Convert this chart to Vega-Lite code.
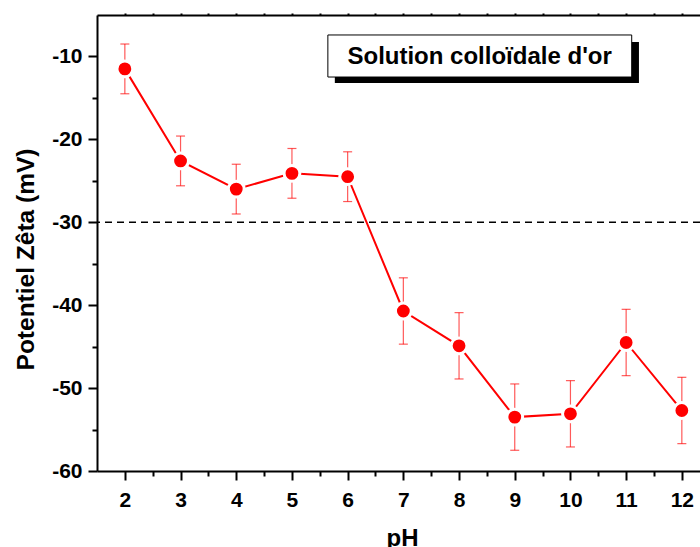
{
  "$schema": "https://vega.github.io/schema/vega-lite/v6.json",
  "width": 603,
  "height": 456,
  "autosize": {"type": "none"},
  "padding": {"left": 97, "top": 15, "right": 0, "bottom": 76},
  "background": "white",
  "config": {"view": {"stroke": null}, "font": "Liberation Sans"},
  "data": {"values": [
    {"pH": 2, "zeta": -11.5, "lo": -14.5, "hi": -8.5},
    {"pH": 3, "zeta": -22.6, "lo": -25.6, "hi": -19.6},
    {"pH": 4, "zeta": -26.0, "lo": -29.0, "hi": -23.0},
    {"pH": 5, "zeta": -24.1, "lo": -27.1, "hi": -21.1},
    {"pH": 6, "zeta": -24.5, "lo": -27.5, "hi": -21.5},
    {"pH": 7, "zeta": -40.7, "lo": -44.7, "hi": -36.7},
    {"pH": 8, "zeta": -44.9, "lo": -48.9, "hi": -40.9},
    {"pH": 9, "zeta": -53.5, "lo": -57.5, "hi": -49.5},
    {"pH": 10, "zeta": -53.1, "lo": -57.1, "hi": -49.1},
    {"pH": 11, "zeta": -44.5, "lo": -48.5, "hi": -40.5},
    {"pH": 12, "zeta": -52.7, "lo": -56.7, "hi": -48.7}
  ]},
  "layer": [
    {
      "mark": {"type": "line", "color": "#FF0000", "strokeWidth": 2},
      "encoding": {
        "x": {"field": "pH", "type": "quantitative",
          "scale": {"domain": [1.5, 12.326], "nice": false, "zero": false},
          "axis": {"orient": "bottom", "title": "pH", "grid": false,
            "values": [2,2.5,3,3.5,4,4.5,5,5.5,6,6.5,7,7.5,8,8.5,9,9.5,10,10.5,11,11.5,12],
            "labelExpr": "datum.value % 1 === 0 ? '' + datum.value : ''",
            "tickSize": {"condition": {"test": "datum.value % 1 === 0", "value": 9}, "value": 5},
            "tickWidth": 2, "tickColor": "black", "domainWidth": 2, "domainColor": "black",
            "labelFontSize": 21, "labelFontWeight": "bold", "labelColor": "black",
            "labelBaseline": "top", "labelPadding": 9, "labelFlush": false,
            "titleFontSize": 24, "titleFontWeight": "bold", "titleColor": "black",
            "titleX": 305, "titleY": 74, "titleBaseline": "alphabetic", "titleAlign": "center"}},
        "y": {"field": "zeta", "type": "quantitative",
          "scale": {"domain": [-60, -5], "nice": false, "zero": false},
          "axis": {"orient": "left", "title": "Potentiel Zêta (mV)", "grid": false,
            "values": [-60,-55,-50,-45,-40,-35,-30,-25,-20,-15,-10],
            "labelExpr": "datum.value % 10 === 0 ? '' + datum.value : ''",
            "tickSize": {"condition": {"test": "datum.value % 10 === 0", "value": 9}, "value": 5},
            "tickWidth": 2, "tickColor": "black", "domainWidth": 2, "domainColor": "black",
            "labelFontSize": 21, "labelFontWeight": "bold", "labelColor": "black",
            "labelBaseline": "middle", "labelPadding": 6, "labelFlush": false,
            "titleFontSize": 24.5, "titleFontWeight": "bold", "titleColor": "black",
            "titleAngle": -90, "titleX": -64, "titleY": 244, "titleBaseline": "alphabetic", "titleAlign": "center"}}
      }
    },
    {
      "mark": {"type": "rule", "color": "#FF0000", "strokeWidth": 1.2, "opacity": 0.65},
      "encoding": {
        "x": {"field": "pH", "type": "quantitative",
          "axis": {"orient": "top", "title": null, "grid": false, "labels": false,
            "values": [2,2.5,3,3.5,4,4.5,5,5.5,6,6.5,7,7.5,8,8.5,9,9.5,10,10.5,11,11.5,12],
            "tickSize": 2, "tickWidth": 2, "tickColor": "black", "domainWidth": 2, "domainColor": "black"}},
        "y": {"field": "lo", "type": "quantitative"},
        "y2": {"field": "hi"}
      }
    },
    {
      "mark": {"type": "tick", "orient": "horizontal", "color": "#FF0000", "size": 9, "thickness": 1.2, "opacity": 0.65},
      "encoding": {
        "x": {"field": "pH", "type": "quantitative", "axis": null},
        "y": {"field": "lo", "type": "quantitative"}
      }
    },
    {
      "mark": {"type": "tick", "orient": "horizontal", "color": "#FF0000", "size": 9, "thickness": 1.2, "opacity": 0.65},
      "encoding": {
        "x": {"field": "pH", "type": "quantitative", "axis": null},
        "y": {"field": "hi", "type": "quantitative"}
      }
    },
    {
      "mark": {"type": "point", "shape": "circle", "filled": true, "fill": "#FF0000", "stroke": "white", "strokeWidth": 3, "size": 250, "opacity": 1},
      "encoding": {
        "x": {"field": "pH", "type": "quantitative", "axis": null},
        "y": {"field": "zeta", "type": "quantitative"}
      }
    },
    {
      "data": {"values": [{}]},
      "mark": {"type": "rule", "color": "black", "strokeWidth": 1.5, "strokeDash": [7, 5]},
      "encoding": {"y": {"datum": -30, "type": "quantitative"}}
    },
    {
      "data": {"values": [{}]},
      "mark": {"type": "rect", "color": "black"},
      "encoding": {
        "x": {"datum": 5.77, "type": "quantitative", "axis": null},
        "x2": {"datum": 11.23},
        "y": {"datum": -8.26, "type": "quantitative"},
        "y2": {"datum": -13.2}
      }
    },
    {
      "data": {"values": [{}]},
      "mark": {"type": "rect", "fill": "white", "stroke": "black", "strokeWidth": 1},
      "encoding": {
        "x": {"datum": 5.645, "type": "quantitative", "axis": null},
        "x2": {"datum": 11.1},
        "y": {"datum": -7.41, "type": "quantitative"},
        "y2": {"datum": -12.48}
      }
    },
    {
      "data": {"values": [{}]},
      "mark": {"type": "text", "text": "Solution colloïdale d'or", "fontSize": 24, "fontWeight": "bold", "color": "black", "align": "center", "baseline": "alphabetic"},
      "encoding": {
        "x": {"datum": 8.37, "type": "quantitative", "axis": null},
        "y": {"datum": -10.91, "type": "quantitative"}
      }
    }
  ]
}
